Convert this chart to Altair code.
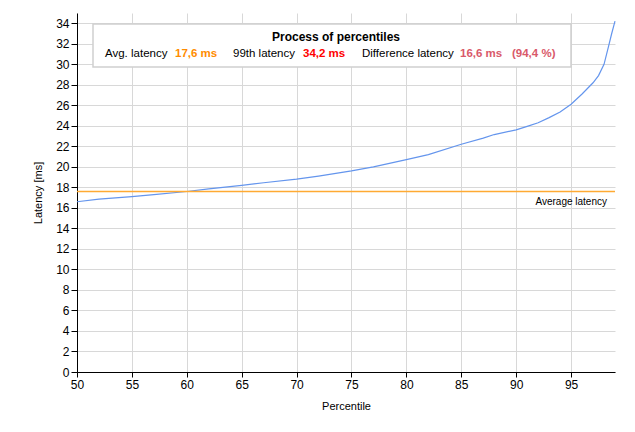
import altair as alt
import pandas as pd

# ---- data ----
percentile = [50, 52, 55, 57, 60, 62, 65, 67, 70, 72, 75, 77, 80, 82, 85, 87, 88, 90,
              91, 92, 93, 94, 95, 96, 97, 97.5, 98, 98.4, 98.7, 99]
latency = [16.6, 16.85, 17.1, 17.3, 17.6, 17.85, 18.2, 18.45, 18.8, 19.1, 19.6, 20.0,
           20.7, 21.2, 22.2, 22.8, 23.15, 23.6, 23.95, 24.3, 24.8, 25.35, 26.1, 27.1,
           28.2, 28.9, 30.0, 31.7, 33.0, 34.2]
avg_latency = [17.6]
x_ticks = [50, 55, 60, 65, 70, 75, 80, 85, 90, 95]
y_ticks = list(range(0, 35, 2))

legend_title = ["Process of percentiles"]
legend_labels = ["Avg. latency", "17,6 ms", "99th latency", "34,2 ms",
                 "Difference latency", "16,6 ms", "(94,4 %)"]
avg_label = ["Average latency"]

FONT = "Liberation Sans"

df = pd.DataFrame({"Percentile": percentile, "Latency": latency})
avg_df = pd.DataFrame({"avg": avg_latency, "label": avg_label})

x_scale = alt.Scale(domain=[50, 99], nice=False, zero=False)
y_scale = alt.Scale(domain=[0, 35], nice=False)

common_axis = dict(grid=True, gridColor="#d8d8d8", domainColor="black", tickColor="black",
                   labelColor="black", labelFontSize=12, labelPadding=2, titleFontSize=11,
                   titleFontWeight="normal", titleColor="black", labelFont=FONT,
                   titleFont=FONT, labelOverlap=False, labelFlush=False)
x_axis = alt.Axis(values=x_ticks, title="Percentile", tickSize=5, titlePadding=10, **common_axis)
y_axis = alt.Axis(values=y_ticks, title="Latency [ms]", tickSize=6, titlePadding=12, **common_axis)

line = alt.Chart(df).mark_line(color="#6495ED", strokeWidth=1.2).encode(
    x=alt.X("Percentile:Q", scale=x_scale, axis=x_axis),
    y=alt.Y("Latency:Q", scale=y_scale, axis=y_axis),
)

avg_rule = alt.Chart(avg_df).mark_rule(color="#FFAA33", strokeWidth=1.5).encode(
    y=alt.Y("avg:Q", scale=y_scale, axis=y_axis)
)

avg_text = alt.Chart(avg_df).mark_text(align="right", baseline="top", font=FONT,
                                       fontSize=10, color="black", dx=-8, dy=6).encode(
    x=alt.value(538), y=alt.Y("avg:Q", scale=y_scale, axis=y_axis), text="label:N"
)

# legend box
box = alt.Chart(avg_df).mark_rect(fill="white", stroke="#d0d0d0", strokeWidth=1.5).encode(
    x=alt.value(16), x2=alt.value(494), y=alt.value(11), y2=alt.value(54)
)

title_txt = alt.Chart(pd.DataFrame({"t": legend_title})).mark_text(
    align="center", baseline="middle", font=FONT, fontSize=12, fontWeight="bold", color="black"
).encode(x=alt.value(259), y=alt.value(24), text="t:N")

label_specs = [
    (28, "black", "normal"),
    (98, "#FF8C00", "bold"),
    (156, "black", "normal"),
    (226, "#FF0000", "bold"),
    (285, "black", "normal"),
    (383, "#D9596A", "bold"),
    (435, "#D9596A", "bold"),
]
label_layers = []
for txt, (px, col, w) in zip(legend_labels, label_specs):
    label_layers.append(
        alt.Chart(pd.DataFrame({"t": [txt]})).mark_text(
            align="left", baseline="middle", font=FONT, fontSize=11.5, fontWeight=w, color=col
        ).encode(x=alt.value(px), y=alt.value(41), text="t:N")
    )

chart = alt.layer(line, avg_rule, avg_text, box, title_txt, *label_layers).properties(
    width=538, height=359,
    autosize=alt.AutoSizeParams(type="none"),
    padding={"left": 77, "top": 13, "right": 20, "bottom": 60},
    background="white",
).configure_view(stroke=None)

chart.save("out.html", embed_options={"renderer": "svg", "actions": False})
